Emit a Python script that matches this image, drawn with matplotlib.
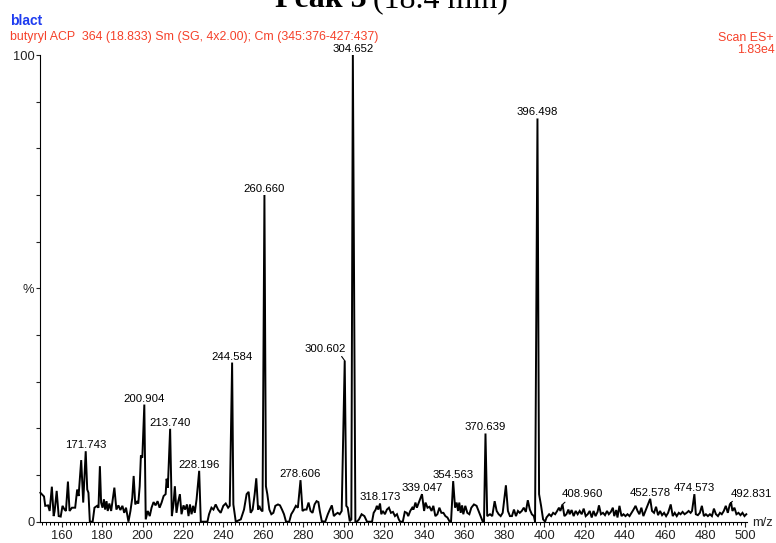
import matplotlib
matplotlib.use("Agg")
import matplotlib.pyplot as plt
from matplotlib.ticker import MultipleLocator, FixedLocator, FixedFormatter

plt.rcParams['font.family'] = ['Liberation Sans', 'DejaVu Sans']

# labelled peaks: m/z and relative intensity (%)
peak_mz = [171.743, 200.904, 213.740, 228.196, 244.584, 260.660, 278.606,
           300.602, 304.652, 318.173, 339.047, 354.563, 370.639, 396.498,
           408.960, 452.578, 474.573, 492.831]
peak_pct = [15.1, 25.1, 19.9, 10.9, 34.1, 70.0, 8.9,
            34.5, 100.0, 3.9, 5.9, 8.7, 18.9, 86.4,
            3.7, 4.9, 5.9, 4.1]

# rest of the profile trace (m/z, %)
trace_mz = [149.2, 151.0, 151.6, 153.0, 153.8, 154.9, 155.8, 156.3, 157.3, 158.3,
            159.3, 160.2, 161.2, 161.9, 162.9, 163.7, 164.9, 166.5, 167.5, 168.2,
            169.5, 170.5, 172.5, 173.1, 173.8, 175.2, 176.1, 177.4, 178.1, 178.8,
            179.4, 180.1, 180.8, 181.4, 182.1, 182.7, 183.5, 184.4, 185.2, 186.0,
            187.0, 188.0, 189.0, 190.0, 190.9, 191.8, 193.0, 194.0, 194.9, 195.6,
            196.4, 197.3, 197.9, 198.6, 199.2, 199.9, 201.6, 202.6, 203.6, 204.5,
            205.5, 206.5, 207.5, 208.5, 209.5, 210.5, 211.5, 212.0, 212.6, 214.6,
            215.4, 216.1, 216.9, 217.8, 218.6, 219.4, 220.4, 221.2, 222.1, 222.9,
            223.6, 224.4, 225.2, 226.0, 226.9, 229.0, 232.3, 233.1, 234.3, 235.3,
            236.4, 237.6, 238.9, 240.2, 241.4, 242.6, 243.4, 245.2, 246.4, 248.9,
            250.5, 251.8, 252.8, 253.8, 254.8, 255.8, 256.6, 257.5, 258.1, 258.8,
            259.7, 261.4, 262.1, 263.1, 264.1, 265.1, 266.1, 267.4, 268.4, 269.4,
            270.4, 271.4, 273.0, 274.0, 275.0, 276.3, 277.3, 279.6, 280.6, 281.6,
            282.6, 283.6, 284.6, 285.6, 286.6, 287.5, 288.2, 289.2, 290.9, 292.2,
            293.2, 294.2, 295.2, 296.1, 297.1, 298.1, 299.1, 301.4, 302.1, 303.1,
            303.9, 305.9, 306.7, 307.7, 309.0, 310.4, 311.7, 314.2, 315.0, 316.0,
            316.6, 317.3, 318.8, 319.6, 320.6, 321.6, 322.6, 323.6, 324.6, 325.6,
            326.6, 327.5, 328.2, 329.5, 330.5, 331.5, 332.2, 333.2, 334.2, 334.8,
            335.8, 336.5, 337.3, 338.1, 340.1, 340.8, 341.8, 342.8, 343.8, 344.7,
            345.7, 346.7, 347.7, 348.7, 349.7, 350.7, 351.7, 352.7, 353.5, 355.5,
            356.3, 357.0, 357.6, 358.3, 359.0, 359.6, 360.6, 361.6, 362.6, 363.6,
            364.9, 366.2, 367.2, 368.2, 369.2, 369.9, 371.5, 372.9, 374.0, 375.2,
            376.2, 377.2, 378.2, 379.2, 380.8, 381.8, 382.8, 383.8, 384.8, 385.8,
            386.8, 387.7, 388.7, 389.7, 390.7, 391.7, 392.7, 393.7, 394.7, 395.3,
            397.3, 398.3, 399.3, 400.3, 401.0, 402.3, 403.3, 404.3, 405.3, 406.3,
            407.2, 407.9, 409.9, 410.9, 411.9, 412.5, 413.5, 414.5, 415.5, 416.5,
            417.5, 418.5, 419.5, 420.5, 421.5, 422.5, 423.5, 424.4, 425.4, 426.4,
            427.1, 428.1, 429.1, 430.1, 431.1, 432.0, 433.0, 434.0, 434.7, 435.7,
            436.3, 437.3, 438.3, 439.3, 440.3, 441.3, 442.3, 443.3, 444.3, 445.3,
            446.3, 447.2, 448.2, 449.2, 450.2, 451.2, 453.5, 454.5, 455.5, 456.5,
            457.5, 458.5, 459.5, 460.5, 461.5, 462.8, 463.8, 464.8, 465.8, 466.8,
            467.7, 468.7, 469.7, 470.7, 471.7, 472.7, 473.4, 475.3, 476.3, 477.3,
            478.3, 479.3, 480.3, 481.3, 482.3, 483.3, 484.3, 485.3, 486.3, 487.3,
            488.2, 489.2, 490.2, 491.2, 492.2, 493.5, 494.5, 495.5, 496.5, 497.5,
            498.5, 499.5, 500.4]
trace_pct = [6.2, 5.4, 3.4, 3.5, 2.3, 7.5, 1.2, 2.3, 6.6, 1.2,
             1.1, 3.4, 2.6, 2.3, 8.6, 2.3, 3.0, 3.0, 6.9, 5.5,
             13.2, 4.1, 6.9, 6.2, 0.0, 0.0, 3.0, 3.4, 3.0, 11.9,
             4.1, 3.0, 4.8, 2.6, 4.4, 2.3, 3.9, 2.3, 4.8, 7.3,
             2.6, 3.5, 2.5, 3.4, 1.9, 3.0, 0.0, 2.3, 5.1, 9.8,
             3.7, 4.4, 3.9, 7.6, 14.2, 13.7, 0.5, 2.3, 1.2, 3.0,
             4.2, 3.5, 4.4, 3.0, 4.1, 5.5, 5.9, 9.2, 7.3, 1.2,
             3.7, 7.6, 1.9, 4.4, 5.9, 1.6, 3.5, 2.6, 3.7, 1.2,
             3.7, 1.6, 3.4, 1.9, 4.8, 0.0, 0.0, 1.6, 3.0, 2.6,
             3.7, 2.6, 1.9, 3.4, 3.9, 3.0, 3.4, 3.7, 0.0, 0.5,
             2.6, 5.9, 6.4, 1.9, 2.6, 5.9, 9.3, 2.6, 3.4, 2.6,
             2.2, 7.6, 5.9, 2.6, 1.6, 1.9, 3.4, 3.7, 3.5, 2.6,
             1.6, 0.0, 0.0, 1.6, 2.3, 3.4, 3.0, 2.3, 2.6, 2.6,
             4.1, 2.3, 1.9, 3.7, 4.4, 4.2, 2.3, 0.1, 0.0, 1.6,
             2.6, 3.5, 1.2, 1.6, 1.9, 1.6, 2.3, 3.4, 3.0, 0.1,
             0.5, 0.1, 0.0, 0.5, 1.6, 1.2, 0.0, 0.0, 1.9, 2.6,
             3.4, 2.6, 1.6, 2.3, 1.6, 2.6, 3.0, 1.9, 2.1, 1.2,
             1.6, 0.5, 0.0, 0.0, 2.1, 1.9, 1.2, 2.3, 3.0, 2.6,
             4.1, 3.0, 3.9, 4.8, 2.3, 4.1, 3.0, 3.2, 2.3, 3.4,
             1.2, 1.6, 3.0, 1.9, 1.9, 1.2, 0.9, 0.1, 0.0, 3.0,
             4.1, 2.3, 4.1, 1.9, 3.5, 1.6, 3.4, 1.9, 1.6, 3.0,
             3.7, 3.4, 2.3, 1.2, 0.1, 0.0, 1.2, 1.6, 1.2, 4.4,
             2.3, 1.6, 1.2, 1.9, 7.8, 2.3, 1.2, 1.2, 2.6, 1.2,
             2.3, 1.9, 2.3, 3.0, 2.1, 4.6, 2.6, 1.6, 1.2, 0.0,
             5.9, 3.4, 0.5, 0.0, 0.9, 1.6, 1.2, 1.9, 1.6, 2.3,
             3.0, 2.3, 1.2, 1.6, 2.6, 1.6, 2.5, 1.2, 2.3, 1.6,
             2.3, 1.6, 2.8, 1.2, 1.6, 2.3, 0.9, 2.3, 1.2, 2.1,
             3.5, 1.6, 1.9, 1.4, 2.3, 1.6, 2.1, 3.0, 1.2, 2.5,
             0.9, 3.4, 1.2, 1.6, 1.2, 1.6, 1.2, 1.9, 2.6, 3.4,
             2.3, 1.6, 3.0, 1.2, 2.3, 3.4, 2.3, 1.9, 3.2, 1.4,
             2.3, 1.4, 1.9, 1.2, 1.9, 3.7, 1.2, 1.9, 1.2, 1.9,
             1.6, 2.1, 1.6, 1.9, 2.3, 1.9, 2.3, 1.6, 1.4, 1.9,
             3.4, 1.2, 1.6, 1.2, 1.6, 1.2, 2.8, 1.6, 1.2, 1.9,
             1.6, 2.3, 3.4, 1.9, 3.7, 2.3, 3.0, 1.6, 1.9, 1.4,
             1.9, 1.2, 1.6]

# labels that sit off to the side with a leader line: (dx, dy) in pixels
leader_offsets = {300.602: (-20, 9), 408.960: (20, 7), 492.831: (20, 6)}
leader_relpos = {300.602: (0.86, 0.0), 408.960: (0.15, 0.0), 492.831: (0.12, 0.0)}

pts = sorted(zip(trace_mz + peak_mz, trace_pct + peak_pct))
xs = [p[0] for p in pts]
ys = [p[1] for p in pts]

fig = plt.figure(figsize=(7.76, 5.43), dpi=100)
ax = fig.add_axes([40 / 776, 21.3 / 543, 706.7 / 776, 466.7 / 543])

ax.plot(xs, ys, color='black', lw=1.4, solid_joinstyle='miter', clip_on=False)
ax.set_xlim(149, 500.6)
ax.set_ylim(0, 100)

for s in ['top', 'right']:
    ax.spines[s].set_visible(False)
for s in ['left', 'bottom']:
    ax.spines[s].set_linewidth(0.8)

ax.xaxis.set_major_locator(MultipleLocator(20))
ax.xaxis.set_minor_locator(MultipleLocator(2))
ax.set_xticks(range(160, 501, 20))
ax.yaxis.set_major_locator(FixedLocator(range(0, 101, 10)))
ylabels = [''] * 11
ylabels[0], ylabels[5], ylabels[10] = '0', '%', '100'
ax.yaxis.set_major_formatter(FixedFormatter(ylabels))
ax.tick_params(axis='x', which='major', length=3.5, width=0.8, pad=2.5,
               labelsize=9.3, colors='#222222')
ax.tick_params(axis='x', which='minor', length=2, width=0.7)
ax.tick_params(axis='y', which='major', length=3, width=0.8, pad=1,
               labelsize=9.3, colors='#222222')

for mz, pct in zip(peak_mz, peak_pct):
    lab = f"{mz:.3f}"
    if mz in leader_offsets:
        ax.annotate(lab, (mz, pct), xytext=leader_offsets[mz],
                    textcoords='offset pixels', ha='center', va='baseline',
                    fontsize=8.2, color='black', annotation_clip=False,
                    arrowprops=dict(arrowstyle='-', lw=0.8, color='black',
                                    shrinkA=0, shrinkB=0,
                                    relpos=leader_relpos[mz]))
    else:
        ax.annotate(lab, (mz, pct), xytext=(0, 3), textcoords='offset pixels',
                    ha='center', va='baseline', fontsize=8.2, color='black',
                    annotation_clip=False)

fig.text(752 / 776, 1 - 523 / 543, 'm/z', ha='left', va='center',
         fontsize=9.3, color='#222222')

# header lines
red = '#f5412a'
fig.text(10 / 776, 1 - 25 / 543, 'blact', color='#1e3cf0', fontsize=10,
         fontweight='bold', va='baseline')
fig.text(10 / 776, 1 - 40 / 543,
         'butyryl ACP  364 (18.833) Sm (SG, 4x2.00); Cm (345:376-427:437)',
         color=red, fontsize=8.9, va='baseline')
fig.text(773 / 776, 1 - 41 / 543, 'Scan ES+', color=red, fontsize=8.9,
         ha='right', va='baseline')
fig.text(775 / 776, 1 - 53 / 543, '1.83e4', color=red, fontsize=8.9,
         ha='right', va='baseline')

# title, mostly above the top edge
fig.text(367 / 776, 1 - 7 / 543, 'Peak 3', family='Liberation Serif',
         fontweight='bold', fontsize=23, ha='right', va='baseline')
fig.text(373 / 776, 1 - 7 / 543, '(18.4 min)', family='Liberation Serif',
         fontsize=23, ha='left', va='baseline')

fig.savefig('out.png', dpi=100)
